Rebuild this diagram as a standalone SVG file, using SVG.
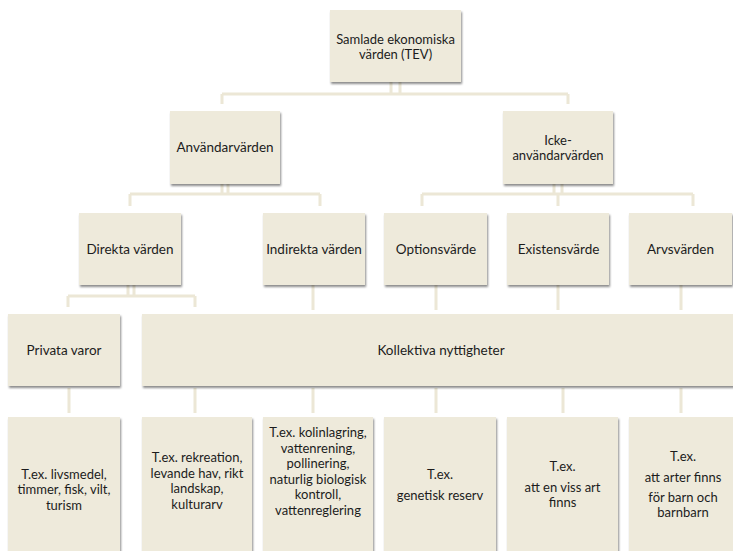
<svg xmlns="http://www.w3.org/2000/svg" width="733" height="551" viewBox="0 0 733 551">
<defs>
<filter id="sh" x="-10%" y="-10%" width="125%" height="130%">
<feDropShadow dx="1" dy="2" stdDeviation="1.3" flood-color="#000" flood-opacity="0.45"/>
</filter>
<style>
.box{fill:#eeeadb;filter:url(#sh);}
.t{font-family:Lato,"Liberation Sans",sans-serif;font-size:13.5px;fill:#1c1c1c;text-anchor:middle;}
.m{font-size:13px;}
.c{fill:none;stroke:#ece7d6;stroke-width:3;}
</style>
</defs>
<rect width="733" height="551" fill="#fff"/>
<g id="connectors" class="c">
<path d="M391 82 V94 M400 82 V94 M222 94 H568 M222 94 V104 M568 94 V104"/>
<path d="M222 184 V194 M228 184 V194 M130 194 H320 M130 194 V206 M320 194 V206"/>
<path d="M554 184 V194 M562 184 V194 M422 194 H693 M422 194 V206 M558 194 V206 M693 194 V206"/>
<path d="M128 285 V296 M134 285 V296 M68 296 H195 M68 296 V307 M195 296 V307"/>
<path d="M313 285 V310 M436 285 V310 M558 285 V310 M681 285 V310"/>
<path d="M69 388 V413 M195 388 V413 M313 388 V413 M436 388 V413 M563 388 V413 M681 388 V413"/>
</g>
<g id="tev"><rect class="box" x="330" y="10" width="131" height="72"/>
<text class="t m" x="395.5" y="43.5">Samlade ekonomiska</text><text class="t m" x="395.5" y="59">värden (TEV)</text></g>
<g id="anvandar"><rect class="box" x="170" y="111" width="110" height="73"/>
<text class="t" x="225" y="152">Användarvärden</text></g>
<g id="icke"><rect class="box" x="503" y="111" width="110" height="73"/>
<text class="t m" x="558" y="144.5">Icke-</text><text class="t m" x="558" y="160">användarvärden</text></g>
<g id="direkta"><rect class="box" x="79" y="213" width="102" height="72"/>
<text class="t" x="130" y="254">Direkta värden</text></g>
<g id="indirekta"><rect class="box" x="263" y="213" width="102" height="72"/>
<text class="t" x="314" y="254">Indirekta värden</text></g>
<g id="options"><rect class="box" x="384" y="213" width="103" height="72"/>
<text class="t" x="436" y="254">Optionsvärde</text></g>
<g id="existens"><rect class="box" x="507" y="213" width="102" height="72"/>
<text class="t" x="558.5" y="254">Existensvärde</text></g>
<g id="arvs"><rect class="box" x="629" y="213" width="103" height="72"/>
<text class="t" x="680.5" y="254">Arvsvärden</text></g>
<g id="privata"><rect class="box" x="8" y="314" width="112" height="72"/>
<text class="t" x="64" y="355">Privata varor</text></g>
<g id="kollektiva"><rect class="box" x="142" y="314" width="595" height="72"/>
<text class="t" x="441" y="355">Kollektiva nyttigheter</text></g>
<g id="ex1"><rect class="box" x="8" y="417" width="112" height="150"/>
<text class="t m" x="64" y="478.5">T.ex. livsmedel,</text><text class="t m" x="64" y="494">timmer, fisk, vilt,</text><text class="t m" x="64" y="509.5">turism</text></g>
<g id="ex2"><rect class="box" x="142" y="417" width="110" height="150"/>
<text class="t m" x="197" y="462">T.ex. rekreation,</text><text class="t m" x="197" y="477.5">levande hav, rikt</text><text class="t m" x="197" y="493">landskap,</text><text class="t m" x="197" y="508.5">kulturarv</text></g>
<g id="ex3"><rect class="box" x="263" y="417" width="110" height="150"/>
<text class="t m" x="318" y="437">T.ex. kolinlagring,</text><text class="t m" x="318" y="452.5">vattenrening,</text><text class="t m" x="318" y="468">pollinering,</text><text class="t m" x="318" y="483.5">naturlig biologisk</text><text class="t m" x="318" y="499">kontroll,</text><text class="t m" x="318" y="514.5">vattenreglering</text></g>
<g id="ex4"><rect class="box" x="384" y="417" width="112" height="150"/>
<text class="t m" x="440" y="478.5">T.ex.</text><text class="t m" x="440" y="499.5">genetisk reserv</text></g>
<g id="ex5"><rect class="box" x="507" y="417" width="111" height="150"/>
<text class="t m" x="562.5" y="470.5">T.ex.</text><text class="t m" x="562.5" y="491.5">att en viss art</text><text class="t m" x="562.5" y="507">finns</text></g>
<g id="ex6"><rect class="box" x="629" y="417" width="111" height="150"/>
<text class="t m" x="683" y="461">T.ex.</text><text class="t m" x="683" y="481.5">att arter finns</text><text class="t m" x="683" y="501.5">för barn och</text><text class="t m" x="683" y="517">barnbarn</text></g>
</svg>
